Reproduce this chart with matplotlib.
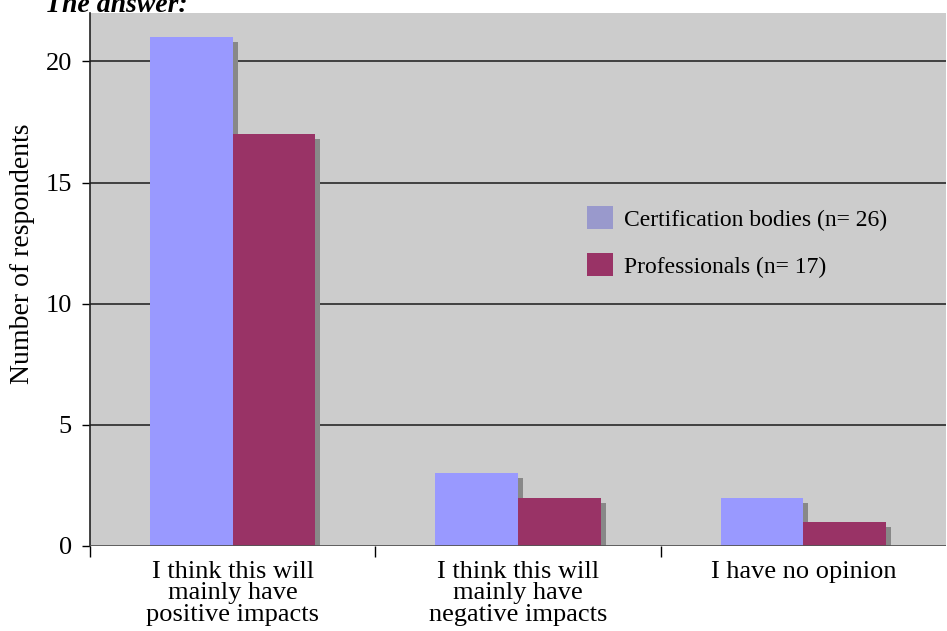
import matplotlib
matplotlib.use("Agg")
import matplotlib.pyplot as plt
import matplotlib.transforms as mtransforms
from matplotlib.patches import Patch
import numpy as np

categories = ["I think this will\nmainly have\npositive impacts",
              "I think this will\nmainly have\nnegative impacts",
              "I have no opinion"]
cert_bodies = [21, 3, 2]
professionals = [17, 2, 1]
series_names = ["Certification bodies (n= 26)", "Professionals (n= 17)"]
yticks = [0, 5, 10, 15, 20]

plt.rcParams['font.family'] = ['Liberation Serif', 'DejaVu Serif']

fig = plt.figure(figsize=(9.47, 6.31), dpi=100)
W, H = 947, 631
ax = fig.add_axes([90 / W, 1 - 546 / H, (946 - 90) / W, (546 - 13) / H])
ax.set_facecolor('#CCCCCC')

x = np.arange(len(categories))
bw = 0.29
shadow_tr = mtransforms.offset_copy(ax.transData, fig=fig, x=5, y=-5, units='dots')

for vals, off in [(cert_bodies, -bw / 2), (professionals, bw / 2)]:
    ax.bar(x + off, vals, width=bw, color='#888888', transform=shadow_tr, zorder=2, linewidth=0)
for vals, off, col in [(cert_bodies, -bw / 2, '#9999FF'), (professionals, bw / 2, '#993366')]:
    ax.bar(x + off, vals, width=bw, color=col, zorder=3, linewidth=0)

ax.set_xlim(-0.5, 2.5)
ax.set_ylim(0, 22)
ax.set_yticks(yticks)
ax.set_yticklabels([str(v) for v in yticks], fontsize=19)
for v in yticks[1:]:
    ax.axhline(v, color='#404040', lw=1.4, zorder=1)
ax.axhline(0, color='#555555', lw=2, zorder=4)

ax.set_xticks([-0.5, 0.5, 1.5])
ax.set_xticklabels([])
ax.set_xticks(x, minor=True)
ax.set_xticklabels(categories, minor=True, fontsize=19, linespacing=0.95)
ax.tick_params(axis='x', which='minor', length=0, pad=11)
ax.tick_params(axis='x', which='major', length=8, width=1, direction='out')
ax.tick_params(axis='y', length=6, width=1, direction='out', pad=7)

for s in ['top', 'right']:
    ax.spines[s].set_visible(False)
ax.spines['left'].set_color('#222222')
ax.spines['left'].set_linewidth(1.2)
ax.spines['bottom'].set_visible(False)

ax.set_ylabel("Number of respondents", fontsize=20)
ax.yaxis.set_label_coords((35 - 90) / 856, (546 - 254) / 533)

handles = [Patch(facecolor='#9999CC', edgecolor='none'),
           Patch(facecolor='#993366', edgecolor='none')]
ax.legend(handles, series_names, loc='upper left', bbox_to_anchor=((578 - 90) / 856, (546 - 197) / 533),
          frameon=False, fontsize=17, handlelength=1.1, handleheight=1.1,
          handletextpad=0.45, labelspacing=0.95, borderaxespad=0)

fig.text(45 / W, 1 - 12 / H, "The answer:", fontsize=20, fontstyle='italic', fontweight='bold',
         va='baseline', ha='left')

fig.savefig("out.png", dpi=100)
